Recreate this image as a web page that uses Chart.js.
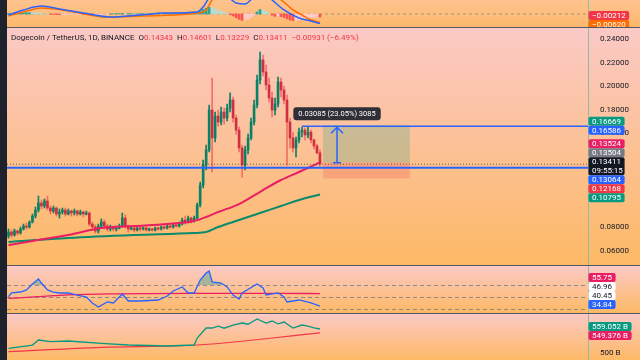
<!DOCTYPE html>
<html>
<head>
<meta charset="utf-8">
<script src="https://cdn.jsdelivr.net/npm/chart.js@4.4.1/dist/chart.umd.min.js"></script>
<style>
  html, body { margin: 0; padding: 0; background: #1e222d; }
  #wrap { position: relative; width: 640px; height: 360px; overflow: hidden; background: #1e222d; }
  canvas { position: absolute; left: 7px; }
  .sep { position: absolute; left: 7px; width: 633px; height: 1px; background: #555862; }
</style>
</head>
<body>
<div id="wrap">
  <canvas id="macd" width="633" height="27" style="top:0"></canvas>
  <canvas id="main" width="633" height="237" style="top:28px"></canvas>
  <canvas id="rsi" width="633" height="47" style="top:266px"></canvas>
  <canvas id="obv" width="633" height="46" style="top:314px"></canvas>
  <div class="sep" style="top:27px"></div>
  <div class="sep" style="top:265px"></div>
  <div class="sep" style="top:313px"></div>
</div>
<script>
// daily candles, DOGE/USDT
const opens = [.0727,.0761,.0736,.0770,.0753,.0787,.0812,.0804,.0846,.0897,
  .0948,.1008,.0982,.1025,.0965,.0940,.0965,.0914,.0931,.0948,
  .0914,.0940,.0923,.0940,.0914,.0931,.0914,.0923,.0829,.0804,
  .0770,.0812,.0846,.0812,.0787,.0804,.0787,.0795,.0812,.0880,
  .0812,.0787,.0795,.0778,.0795,.0787,.0795,.0778,.0787,.0778,
  .0795,.0787,.0804,.0795,.0812,.0804,.0821,.0812,.0829,.0863,
  .0846,.0880,.0855,.0880,.0991,.1160,.1330,.1458,.1797,.1560,
  .1746,.1695,.1780,.1729,.1814,.1882,.1729,.1627,.1475,.1330,
  .1458,.1560,.1695,.1840,.2052,.2222,.2120,.2009,.1899,.1797,
  .1848,.2035,.1967,.1882,.1695,.1560,.1475,.1543,.1610,.1627,
  .1585,.1610,.1543,.1492,.14343];
const highs = [.0787,.0778,.0787,.0778,.0804,.0829,.0838,.0855,.0914,.0974,
  .1067,.1033,.1042,.1067,.0982,.0982,.0974,.0957,.0965,.0965,
  .0957,.0948,.0957,.0948,.0948,.0940,.0940,.0931,.0846,.0821,
  .0829,.0872,.0863,.0829,.0821,.0812,.0812,.0829,.0923,.0906,
  .0821,.0812,.0804,.0804,.0812,.0804,.0804,.0795,.0795,.0804,
  .0804,.0812,.0821,.0821,.0829,.0829,.0838,.0846,.0880,.0897,
  .0897,.0889,.0897,.1008,.1186,.1373,.1500,.1840,.2069,.1780,
  .1797,.1823,.1814,.1848,.1942,.1908,.1755,.1653,.1500,.1492,
  .1593,.1729,.1882,.2094,.2290,.2264,.2179,.2069,.1950,.1899,
  .2077,.2069,.2001,.1925,.1729,.1610,.1568,.1644,.1653,.1644,
  .1653,.1627,.1551,.1509,.14601];
const lows = [.0710,.0719,.0727,.0736,.0744,.0778,.0787,.0795,.0838,.0880,
  .0931,.0957,.0965,.0948,.0914,.0923,.0897,.0880,.0914,.0897,
  .0906,.0897,.0906,.0897,.0906,.0889,.0906,.0812,.0778,.0753,
  .0753,.0795,.0787,.0770,.0770,.0770,.0770,.0787,.0804,.0795,
  .0761,.0778,.0761,.0770,.0770,.0778,.0770,.0770,.0770,.0770,
  .0778,.0778,.0787,.0787,.0795,.0795,.0804,.0804,.0821,.0829,
  .0838,.0838,.0846,.0872,.0974,.1135,.1288,.1441,.1271,.1526,
  .1661,.1670,.1678,.1704,.1780,.1695,.1593,.1441,.1228,.1288,
  .1424,.1543,.1670,.1814,.2018,.2086,.1967,.1865,.1738,.1755,
  .1823,.1908,.1848,.1330,.1475,.1441,.1398,.1517,.1568,.1543,
  .1560,.1517,.1466,.1424,.13229];
const closes = [.0761,.0736,.0770,.0753,.0787,.0812,.0804,.0846,.0897,.0948,
  .1008,.0982,.1025,.0965,.0940,.0965,.0914,.0931,.0948,.0914,
  .0940,.0923,.0940,.0914,.0931,.0914,.0923,.0829,.0804,.0770,
  .0812,.0846,.0812,.0787,.0804,.0787,.0795,.0812,.0880,.0812,
  .0787,.0795,.0778,.0795,.0787,.0795,.0778,.0787,.0778,.0795,
  .0787,.0804,.0795,.0812,.0804,.0821,.0812,.0829,.0863,.0846,
  .0880,.0855,.0880,.0991,.1160,.1330,.1458,.1797,.1560,.1746,
  .1695,.1780,.1729,.1814,.1882,.1729,.1627,.1475,.1330,.1458,
  .1560,.1695,.1840,.2052,.2222,.2120,.2009,.1899,.1797,.1848,
  .2035,.1967,.1882,.1695,.1560,.1475,.1543,.1610,.1627,.1585,
  .1610,.1543,.1492,.14343,.13411];
const slotCount = 194; // candles + empty space to the right

// moving averages (candle index / value)
const maRedIdx = [0, 8, 20, 31, 42, 53, 62, 66, 70, 77, 85, 91, 97, 104];
const maRedVal = [.0651, .0685, .0736, .0795, .0812, .0829, .0855, .0889, .0931, .0999, .1118, .1203, .1271, .13524];
const maGreenIdx = [0, 20, 42, 62, 66, 70, 77, 84, 91, 97, 104];
const maGreenVal = [.0677, .0711, .0736, .0753, .0761, .0804, .0863, .0923, .0982, .1033, .10795];

const priceTicks = [0.24, 0.22, 0.20, 0.18, 0.16, 0.08, 0.06];
const mainTagValues = [0.16669, 0.16586, 0.13524, 0.13504, 0.13411, 0.13064, 0.12168, 0.10795];
const mainTagColors = ['#089981', '#2962ff', '#e91e63', '#787b86', '#131722', '#2962ff', '#f23645', '#089981'];
const mainTagSub = ['', '', '', '', '09:55:15', '', '', ''];

// drawings
const hLineLevel = 0.13064;
const rayLevel = 0.16586, rayStart = 98;
const posStart = 105, posEnd = 134;
const posEntry = 0.13504, posTarget = 0.16669, posStop = 0.12168;
const measureFrom = 0.13501, measureTo = 0.16586, measureAt = 109.7;
const measureText = '0.03085 (23.05%) 3085';
const changeText = '\u22120.00931 (\u22126.49%)';

// MACD
const macdIdx = [0, 5, 11, 17, 25, 34, 44, 52, 63, 65, 67, 71, 76, 79, 82, 86, 88, 92, 97, 101, 104];
const macdVal = [-.0007, .0028, .0055, .0035, .0007, -.0021, -.0007, .0007, .0014, .0048, .0110, .0152, .0076, .0069, .0117, .0131, .0097, .0028, -.0028, -.0048, -.0066];
const signalIdx = [0, 5, 11, 20, 33, 44, 63, 66, 68, 72, 79, 86, 91, 95, 98, 101, 104];
const signalVal = [-.0014, .0014, .0041, .0021, -.0021, -.0014, .0007, .0028, .0097, .0138, .0117, .0138, .0097, .0028, -.0007, -.0041, -.0059];
const macdHist = [.0003,.0004,.0005,.0006,.0007,.0008,.0009,.0009,.0008,.0007,
  .0006,.0004,.0002,.0000,-.0002,-.0003,-.0004,-.0005,-.0005,-.0004,
  -.0004,-.0003,-.0003,-.0002,-.0002,-.0003,-.0004,-.0005,-.0006,-.0005,
  -.0004,-.0003,-.0002,-.0001,.0000,.0001,.0002,.0002,.0003,.0002,
  .0002,.0002,.0001,.0001,.0002,.0002,.0001,.0001,.0002,.0002,
  .0002,.0001,.0001,.0002,.0002,.0002,.0003,.0003,.0004,.0004,
  .0005,.0005,.0006,.0012,.0022,.0032,.0040,.0046,.0044,.0036,
  .0026,.0018,.0010,.0004,-.0004,-.0014,-.0026,-.0036,-.0044,-.0042,
  -.0034,-.0022,-.0006,.0014,.0030,.0028,.0018,.0004,-.0008,-.0016,
  -.0014,-.0018,-.0024,-.0034,-.0042,-.0046,-.0044,-.0040,-.0034,-.0030,
  -.0026,-.0024,-.0022,-.0021,-.00212];
const macdTagValues = [-0.00212, -0.00620];
const macdTagColors = ['#f23645', '#ff6d00'];

// RSI
const rsiIdx = [0, 1, 4, 6, 8, 10, 11, 13, 15, 17, 20, 23, 26, 28, 30, 33, 35, 38, 40, 44, 50, 53, 55, 58, 60, 62, 64, 66, 67, 68, 71, 73, 75, 77, 78, 83, 85, 86, 90, 92, 93, 97, 101, 104];
const rsiVal = [50.5, 56.7, 58.3, 61.7, 71.7, 80, 73.3, 61.7, 58.3, 56.7, 56.7, 53.3, 50, 40, 33.3, 41.7, 40, 55, 43.3, 43.3, 45, 51.7, 60, 66.7, 56.7, 56.7, 78.3, 90, 93.3, 75, 73.3, 66.7, 53.3, 46.7, 56.7, 71.7, 65, 53.3, 56.7, 50, 41.7, 45, 40, 34.84];
const rsiMaIdx = [0, 10, 20, 35, 60, 90, 104];
const rsiMaVal = [47.8, 50.5, 53.5, 55.2, 55.9, 55.9, 55.75];
const rsiLevels = [70, 50, 30];
const rsiTagValues = [55.75, 46.96, 40.45, 34.84];
const rsiTagColors = ['#e91e63', '#ffffff', '#ffffff', '#2962ff'];

// OBV (billions)
const obvIdx = [0, 8, 10, 14, 20, 31, 40, 53, 62, 63, 66, 68, 70, 72, 75, 78, 80, 83, 86, 88, 90, 92, 95, 98, 100, 102, 104];
const obvVal = [510.8, 519, 531.5, 527.3, 529, 523.3, 519, 516.5, 519, 536.5, 561.5, 561.5, 566, 561, 569, 574, 571, 584, 574, 579, 572, 576.5, 561.5, 569, 566, 562, 559.052];
const obvMaIdx = [0, 31, 63, 104];
const obvMaVal = [502.3, 513.3, 519, 549.376];
const obvTicks = [500];
const obvTagValues = [559.052, 549.376];
const obvTagColors = ['#089981', '#e91e63'];

const FONT = 'Roboto, "Noto Sans", sans-serif';
const GREEN = '#0b8068';
const RED = '#d12f40';

function spread(items, lo, hi) {
  items.sort((a, b) => a.y - b.y);
  for (let n = 0; n < 80; n++) {
    for (let k = 1; k < items.length; k++) {
      const a = items[k - 1], b = items[k];
      const need = (a.h + b.h) / 2;
      if (b.y - a.y < need) {
        const d = (need - (b.y - a.y)) / 2;
        a.y -= d; b.y += d;
      }
    }
    items.forEach(o => { o.y = Math.min(hi - o.h / 2, Math.max(lo + o.h / 2, o.y)); });
  }
}

function minus(v, d) { return (v < 0 ? '\u2212' : '') + Math.abs(v).toFixed(d); }

function bgPlugin(top, bottom) {
  return {
    id: 'bg',
    beforeDraw(chart) {
      const { ctx, width, height } = chart;
      const g = ctx.createLinearGradient(0, 0, 0, height);
      g.addColorStop(0, top);
      g.addColorStop(1, bottom);
      ctx.save();
      ctx.fillStyle = g;
      ctx.fillRect(0, 0, width, height);
      ctx.restore();
    }
  };
}

function tagPlugin(values, colors, fmt, lo, hi, subs) {
  return {
    id: 'tags',
    afterDraw(chart) {
      const { ctx, chartArea } = chart;
      const ys = chart.scales.y;
      const items = values.map((v, k) => ({
        v, c: colors[k], sub: subs ? subs[k] : '', y: ys.getPixelForValue(v), h: (subs && subs[k]) ? 18 : 9
      }));
      spread(items, lo, hi == null ? chart.height : hi);
      ctx.save();
      ctx.font = '8px ' + FONT;
      ctx.textBaseline = 'middle';
      items.forEach(it => {
        const txt = fmt(it.v);
        const w = ctx.measureText(txt).width + 7;
        ctx.fillStyle = it.c;
        ctx.beginPath();
        ctx.roundRect(chartArea.right + 0.5, it.y - it.h / 2, w, it.h, 2);
        ctx.fill();
        ctx.fillStyle = it.c === '#ffffff' ? '#131722' : '#ffffff';
        if (it.sub) {
          ctx.fillText(txt, chartArea.right + 4, it.y - 4);
          ctx.fillText(it.sub, chartArea.right + 4, it.y + 4.5);
        } else {
          ctx.fillText(txt, chartArea.right + 4, it.y + 0.5);
        }
      });
      ctx.restore();
    }
  };
}

function rightAxis(min, max, ticks, fmt) {
  return {
    position: 'right', min, max,
    grid: { display: false },
    border: { color: '#93b8a6' },
    afterBuildTicks: s => { s.ticks = ticks.map(v => ({ value: v })); },
    afterFit: s => { s.width = 52; s.paddingTop = 0; s.paddingBottom = 0; },
    ticks: { display: ticks.length > 0, color: '#131722', font: { size: 8, family: FONT }, padding: 4, callback: fmt }
  };
}

function xAxis() {
  return { type: 'linear', display: false, min: -0.5, max: slotCount - 0.5, offset: false };
}

function pts(idx, vals) { return idx.map((x, k) => ({ x, y: vals[k] })); }

const baseOpts = {
  responsive: false, animation: false,
  layout: { padding: 0 },
  plugins: { legend: { display: false }, tooltip: { enabled: false } }
};

// ---------- main price pane ----------
const candleColors = closes.map((c, i) => c >= opens[i] ? GREEN : RED);
const wickColors = closes.map((c, i) => c >= opens[i] ? GREEN : 'rgba(242,54,69,0.6)');

const drawings = {
  id: 'drawings',
  afterDatasetsDraw(chart) {
    const { ctx, chartArea } = chart;
    const xs = chart.scales.x, ys = chart.scales.y;
    ctx.save();
    // long position box
    const x0 = xs.getPixelForValue(posStart), x1 = xs.getPixelForValue(posEnd);
    const yE = ys.getPixelForValue(posEntry), yT = ys.getPixelForValue(posTarget), yS = ys.getPixelForValue(posStop);
    ctx.fillStyle = 'rgba(8,153,129,0.2)';
    ctx.fillRect(x0, yT, x1 - x0, yE - yT);
    ctx.fillStyle = 'rgba(242,54,69,0.2)';
    ctx.fillRect(x0, yE, x1 - x0, yS - yE);
    // current price dotted line
    const yP = ys.getPixelForValue(closes[closes.length - 1]);
    ctx.strokeStyle = 'rgba(70,50,50,0.7)';
    ctx.lineWidth = 1;
    ctx.setLineDash([1, 2]);
    ctx.beginPath(); ctx.moveTo(chartArea.left, yP + 0.5); ctx.lineTo(chartArea.right, yP + 0.5); ctx.stroke();
    ctx.setLineDash([]);
    // horizontal line + ray
    ctx.strokeStyle = '#2962ff';
    ctx.lineWidth = 2;
    const yH = ys.getPixelForValue(hLineLevel);
    ctx.beginPath(); ctx.moveTo(chartArea.left, yH); ctx.lineTo(chartArea.right, yH); ctx.stroke();
    ctx.lineWidth = 1.5;
    const yR = ys.getPixelForValue(rayLevel);
    ctx.beginPath(); ctx.moveTo(xs.getPixelForValue(rayStart), yR); ctx.lineTo(chartArea.right, yR); ctx.stroke();
    // measure arrow
    const xm = xs.getPixelForValue(measureAt);
    const ya = ys.getPixelForValue(measureFrom), yb = ys.getPixelForValue(measureTo);
    ctx.beginPath();
    ctx.moveTo(xm, ya); ctx.lineTo(xm, yb + 1);
    ctx.moveTo(xm - 6, yb + 7); ctx.lineTo(xm, yb + 1); ctx.lineTo(xm + 6, yb + 7);
    ctx.moveTo(xm - 4, ya); ctx.lineTo(xm + 4, ya);
    ctx.stroke();
    // measure label
    ctx.font = '7.5px ' + FONT;
    const tw = ctx.measureText(measureText).width + 10;
    ctx.fillStyle = 'rgba(30,34,45,0.92)';
    ctx.beginPath(); ctx.roundRect(xm - tw / 2, yb - 19, tw, 13, 3); ctx.fill();
    ctx.fillStyle = '#ffffff';
    ctx.textBaseline = 'middle';
    ctx.textAlign = 'center';
    ctx.fillText(measureText, xm, yb - 12.5);
    ctx.restore();
  },
  afterDraw(chart) {
    const { ctx } = chart;
    const last = closes.length - 1;
    const dark = '#131722', red = '#f23645';
    const parts = [
      ['Dogecoin / TetherUS, 1D, BINANCE  ', dark],
      ['O', dark], [opens[last].toFixed(5), red],
      ['  H', dark], [highs[last].toFixed(5), red],
      ['  L', dark], [lows[last].toFixed(5), red],
      ['  C', dark], [closes[last].toFixed(5), red],
      ['  ' + changeText, red]
    ];
    ctx.save();
    ctx.font = '8px ' + FONT;
    ctx.textBaseline = 'middle';
    let x = 4;
    parts.forEach(([t, c]) => { ctx.fillStyle = c; ctx.fillText(t, x, 10); x += ctx.measureText(t).width; });
    ctx.restore();
  }
};

new Chart('main', {
  type: 'bar',
  data: {
    datasets: [
      { type: 'line', data: pts(maRedIdx, maRedVal), borderColor: '#e91e63', borderWidth: 2, pointRadius: 0, cubicInterpolationMode: 'monotone', order: 0 },
      { type: 'line', data: pts(maGreenIdx, maGreenVal), borderColor: '#0b8a6e', borderWidth: 2, pointRadius: 0, cubicInterpolationMode: 'monotone', order: 0 },
      { data: closes.map((c, i) => ({ x: i, y: [opens[i], c] })), backgroundColor: candleColors, barThickness: 2, minBarLength: 1, grouped: false, order: 1 },
      { data: closes.map((c, i) => ({ x: i, y: [lows[i], highs[i]] })), backgroundColor: wickColors, barThickness: 1, grouped: false, order: 2 }
    ]
  },
  options: {
    ...baseOpts,
    scales: {
      x: xAxis(),
      y: rightAxis(0.04815, 0.24934, priceTicks, v => v.toFixed(5))
    }
  },
  plugins: [bgPlugin('#fbc9c6', '#fdb965'), drawings,
    tagPlugin(mainTagValues, mainTagColors, v => v.toFixed(5), 0, null, mainTagSub)]
});

// ---------- MACD pane ----------
const histColors = macdHist.map((v, i) => {
  const p = i ? macdHist[i - 1] : 0;
  return v >= 0 ? (v >= p ? '#26a69a' : '#b2dfdb') : (v < p ? '#ff5252' : '#ffcdd2');
});
const zeroLine = {
  id: 'zero',
  beforeDatasetsDraw(chart) {
    const { ctx, chartArea } = chart;
    const y = chart.scales.y.getPixelForValue(0);
    ctx.save();
    ctx.strokeStyle = 'rgba(120,123,134,0.6)';
    ctx.setLineDash([3, 3]);
    ctx.beginPath(); ctx.moveTo(chartArea.left, y); ctx.lineTo(chartArea.right, y); ctx.stroke();
    ctx.restore();
  }
};
new Chart('macd', {
  type: 'bar',
  data: {
    datasets: [
      { type: 'line', data: pts(macdIdx, macdVal), borderColor: '#2962ff', borderWidth: 1.5, pointRadius: 0, cubicInterpolationMode: 'monotone', order: 0 },
      { type: 'line', data: pts(signalIdx, signalVal), borderColor: '#ff6d00', borderWidth: 1.5, pointRadius: 0, cubicInterpolationMode: 'monotone', order: 1 },
      { data: macdHist.map((v, i) => ({ x: i, y: v })), backgroundColor: histColors, barThickness: 2, order: 2 }
    ]
  },
  options: {
    ...baseOpts,
    scales: { x: xAxis(), y: rightAxis(-0.00897, 0.00966, [], v => v) }
  },
  plugins: [bgPlugin('#fdc38f', '#fdb86c'), zeroLine,
    tagPlugin(macdTagValues, macdTagColors, v => minus(v, 5), -100, 1000)]
});

// ---------- RSI pane ----------
const rsiGuides = {
  id: 'guides',
  beforeDatasetsDraw(chart) {
    const { ctx, chartArea } = chart;
    const ys = chart.scales.y;
    ctx.save();
    ctx.strokeStyle = 'rgba(120,123,134,0.8)';
    ctx.setLineDash([4, 3]);
    rsiLevels.forEach(l => {
      const y = Math.round(ys.getPixelForValue(l)) + 0.5;
      ctx.beginPath(); ctx.moveTo(chartArea.left, y); ctx.lineTo(chartArea.right, y); ctx.stroke();
    });
    ctx.restore();
  }
};
new Chart('rsi', {
  type: 'line',
  data: {
    datasets: [
      { data: pts(rsiIdx, rsiVal), borderColor: '#2962ff', borderWidth: 1.3, pointRadius: 0,
        fill: { value: 70, above: 'rgba(8,153,129,0.35)', below: 'rgba(0,0,0,0)' } },
      { data: pts(rsiMaIdx, rsiMaVal), borderColor: '#e91e63', borderWidth: 1.3, pointRadius: 0, cubicInterpolationMode: 'monotone' }
    ]
  },
  options: {
    ...baseOpts,
    scales: { x: xAxis(), y: rightAxis(23.3, 101.7, [], v => v) }
  },
  plugins: [bgPlugin('#fbc9c6', '#fdb965'), rsiGuides,
    tagPlugin(rsiTagValues, rsiTagColors, v => v.toFixed(2), 0, 43)]
});

// ---------- OBV pane ----------
new Chart('obv', {
  type: 'line',
  data: {
    datasets: [
      { data: pts(obvIdx, obvVal), borderColor: '#089981', borderWidth: 1.3, pointRadius: 0 },
      { data: pts(obvMaIdx, obvMaVal), borderColor: '#f23645', borderWidth: 1.2, pointRadius: 0, cubicInterpolationMode: 'monotone' }
    ]
  },
  options: {
    ...baseOpts,
    scales: { x: xAxis(), y: rightAxis(481.55, 596.55, obvTicks, v => v + ' B') }
  },
  plugins: [bgPlugin('#fbc9c6', '#fdb965'),
    tagPlugin(obvTagValues, obvTagColors, v => v.toFixed(3) + ' B', 0, null)]
});
</script>
</body>
</html>
